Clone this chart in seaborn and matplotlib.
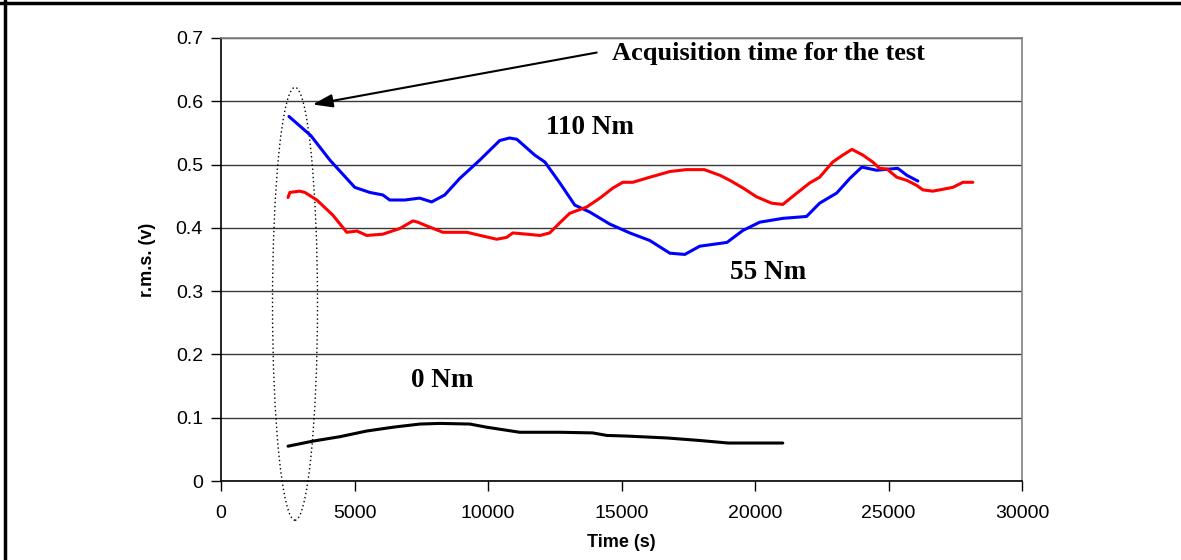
"""r.m.s. vs time for three torque levels."""

import matplotlib.pyplot as plt
import matplotlib.lines as mlines
from matplotlib.patches import Ellipse
import pandas as pd
import seaborn as sns

sns.set_style("ticks")
plt.rcParams["font.family"] = ["Liberation Sans", "DejaVu Sans"]
plt.rcParams.update({"text.color": "black", "axes.labelcolor": "black",
                     "xtick.color": "black", "ytick.color": "black"})
SERIF = ["Liberation Serif", "DejaVu Serif"]

# 110 Nm (blue)
t_110 = [2545, 3360, 4080, 5010, 5570, 6060, 6320, 6880, 7440, 7890, 8380,
         8940, 9690, 10440, 10810, 11080, 11750, 12130, 12690, 13250, 13810,
         14560, 15310, 16060, 16810, 17370, 17930, 18950, 19550, 20180,
         21040, 21930, 22420, 23060, 23550, 24000, 24560, 25050, 25350,
         25690, 26100]
v_110 = [0.576, 0.546, 0.507, 0.464, 0.456, 0.452, 0.444, 0.444, 0.447,
         0.441, 0.452, 0.478, 0.507, 0.538, 0.542, 0.540, 0.515, 0.504,
         0.471, 0.436, 0.425, 0.406, 0.392, 0.380, 0.360, 0.358, 0.371,
         0.377, 0.396, 0.409, 0.415, 0.418, 0.439, 0.455, 0.478, 0.496,
         0.491, 0.493, 0.494, 0.483, 0.474]

# 55 Nm (red)
t_55 = [2510, 2580, 2950, 3140, 3590, 4190, 4710, 5090, 5460, 6060, 6700,
        7190, 7370, 7710, 8310, 8690, 9210, 9810, 10330, 10700, 10930,
        11450, 11950, 12310, 12690, 13060, 13700, 14190, 14680, 15050,
        15420, 16060, 16810, 17430, 18100, 18690, 19060, 19550, 20060,
        20620, 21040, 21570, 22050, 22420, 22910, 23290, 23630, 24040,
        24410, 24670, 24940, 25310, 25690, 26060, 26290, 26660, 27040,
        27410, 27790, 28160]
v_55 = [0.448, 0.456, 0.458, 0.456, 0.444, 0.420, 0.393, 0.395, 0.388,
        0.390, 0.399, 0.411, 0.409, 0.403, 0.393, 0.393, 0.393, 0.387,
        0.382, 0.385, 0.392, 0.390, 0.388, 0.392, 0.408, 0.423, 0.433,
        0.447, 0.463, 0.472, 0.472, 0.480, 0.489, 0.492, 0.492, 0.483,
        0.475, 0.463, 0.449, 0.439, 0.437, 0.455, 0.471, 0.480, 0.504,
        0.515, 0.524, 0.515, 0.504, 0.494, 0.493, 0.480, 0.475, 0.467,
        0.460, 0.458, 0.461, 0.464, 0.472, 0.472]

# 0 Nm (black)
t_0 = [2510, 3440, 4450, 5460, 6440, 7450, 8200, 9320, 9950, 11190, 12690,
       13920, 14450, 15200, 16700, 17930, 19000, 20000, 21040]
v_0 = [0.055, 0.063, 0.070, 0.079, 0.085, 0.090, 0.091, 0.090, 0.085,
       0.077, 0.077, 0.076, 0.072, 0.071, 0.068, 0.064, 0.060, 0.060, 0.060]

data = pd.concat([
    pd.DataFrame({"Time": t_110, "rms": v_110, "Load": "110 Nm"}),
    pd.DataFrame({"Time": t_55, "rms": v_55, "Load": "55 Nm"}),
    pd.DataFrame({"Time": t_0, "rms": v_0, "Load": "0 Nm"}),
])
COLORS = {"110 Nm": "#0000ff", "55 Nm": "#ff0000", "0 Nm": "#000000"}

fig = plt.figure(figsize=(11.81, 5.6), dpi=100)
ax = fig.add_axes([221 / 1181, 1 - 481 / 560, 801 / 1181, 443 / 560])
sns.lineplot(x="Time", y="rms", hue="Load", palette=COLORS, data=data,
             sort=False, estimator=None, linewidth=2.2, legend=False, ax=ax)

ax.set_xlim(0, 30000)
ax.set_ylim(0, 0.7)
ax.set_xticks(range(0, 30001, 5000))
ax.set_yticks([i / 10 for i in range(8)])
ax.set_yticklabels(["0"] + [f"{i / 10:.1f}" for i in range(1, 8)])
ax.yaxis.grid(True, color="#3a3a3a", linewidth=1)
ax.tick_params(labelsize=14, length=7, width=1, direction="out")
ax.tick_params(axis="x", pad=10)
ax.tick_params(axis="y", pad=6)
for side in ["left", "bottom"]:
    ax.spines[side].set_color("black")
    ax.spines[side].set_linewidth(1.2)
for side in ["top", "right"]:
    ax.spines[side].set_color("#808080")
    ax.spines[side].set_linewidth(1.2)
ax.set_xlabel("Time (s)", fontsize=13, fontweight="bold", labelpad=9)
ax.set_ylabel("r.m.s. (v)", fontsize=13, fontweight="bold", labelpad=14)

# dotted ellipse around the acquisition start
ax.add_patch(Ellipse((2772, 0.28), 1685, 0.684, fill=False, color="black",
                     linewidth=1, linestyle=(0, (1, 2)), clip_on=False))
ax.annotate("", xy=(3434, 0.595), xytext=(14070, 0.677),
            arrowprops=dict(arrowstyle="-|>,head_length=1.2,head_width=0.4",
                            color="black", lw=1.5, shrinkA=0, shrinkB=0))
ax.text(14630, 0.676, "Acquisition time for the test", family=SERIF,
        fontsize=19, fontweight="bold", ha="left", va="center")
ax.text(13810, 0.558, "110 Nm", family=SERIF, fontsize=19.5,
        fontweight="bold", ha="center", va="center")
ax.text(20510, 0.33, "55 Nm", family=SERIF, fontsize=19.5,
        fontweight="bold", ha="center", va="center")
ax.text(8270, 0.159, "0 Nm", family=SERIF, fontsize=19.5,
        fontweight="bold", ha="center", va="center")

# border on the top and left of the picture
fig.add_artist(mlines.Line2D([0, 1], [1 - 3 / 560, 1 - 3 / 560],
                             color="black", linewidth=2.5))
fig.add_artist(mlines.Line2D([5 / 1181, 5 / 1181], [0, 1],
                             color="black", linewidth=2.5))

fig.savefig("out.png", dpi=100)
